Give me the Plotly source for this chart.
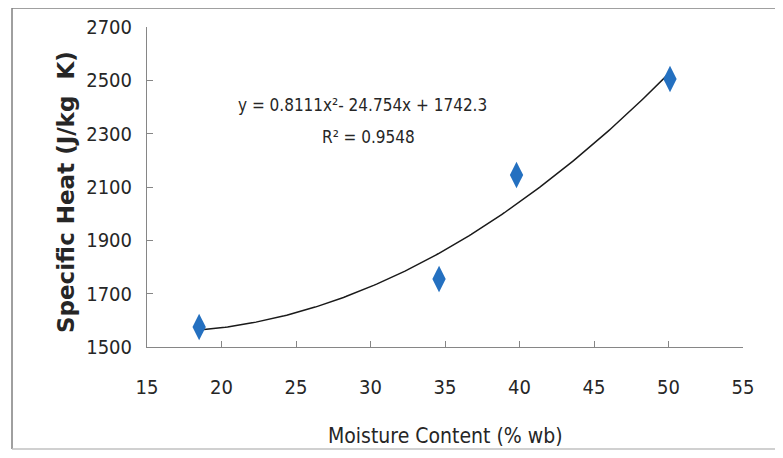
import numpy as np
import plotly.graph_objects as go

# Data
moisture = [18.5, 34.6, 39.8, 50.1]          # % wb
specific_heat = [1575, 1755, 2145, 2505]      # J/kg K
x_ticks = [15, 20, 25, 30, 35, 40, 45, 50, 55]
y_ticks = [1500, 1700, 1900, 2100, 2300, 2500, 2700]
equation_text = "y = 0.8111x²- 24.754x + 1742.3"
r2_text = "R² = 0.9548"
x_title = "Moisture Content (% wb)"
y_title = "Specific Heat (J/kg&nbsp; K)"

# Polynomial (order 2) trendline fitted to the data, as the original spreadsheet did
coef = np.polyfit(moisture, specific_heat, 2)
tx = np.linspace(min(moisture), max(moisture), 200)
ty = np.polyval(coef, tx)

FONT = "DejaVu Sans Condensed, DejaVu Sans, sans-serif"
TXT = "#262626"
FRAME = dict(color="#808080", width=1.5)

fig = go.Figure()
fig.add_trace(go.Scatter(x=tx, y=ty, mode="lines",
                         line=dict(color="#1a1a1a", width=1.5),
                         showlegend=False, hoverinfo="skip"))
fig.add_trace(go.Scatter(x=moisture, y=specific_heat, mode="markers",
                         marker=dict(symbol="diamond-tall", size=19, color="#2470C0",
                                     line=dict(width=0)),
                         showlegend=False))

# the page body adds an 8px margin, so the figure is sized/shifted to fit the window
fig.update_layout(
    width=767, height=442,
    margin=dict(l=139, r=32, t=19, b=103),
    paper_bgcolor="white", plot_bgcolor="white",
    font=dict(family=FONT, size=20, color=TXT),
    xaxis=dict(range=[15, 55], tickvals=x_ticks, showgrid=False, zeroline=False,
               showline=True, linecolor="#868686", linewidth=1,
               ticks="inside", ticklen=6, tickcolor="#868686",
               ticklabelstandoff=22, automargin=False,
               tickfont=dict(family=FONT, size=20, color=TXT)),
    yaxis=dict(range=[1500, 2700], tickvals=y_ticks, showgrid=False, zeroline=False,
               showline=True, linecolor="#868686", linewidth=1,
               ticks="inside", ticklen=6, tickcolor="#868686",
               ticklabelstandoff=10, automargin=False,
               tickfont=dict(family=FONT, size=20, color=TXT)),
    annotations=[
        dict(x=0.361, y=0.756, xref="paper", yref="paper", text=equation_text,
             xanchor="center", yanchor="middle",
             showarrow=False, font=dict(family=FONT, size=17, color=TXT)),
        dict(x=0.371, y=0.656, xref="paper", yref="paper", text=r2_text,
             xanchor="center", yanchor="middle",
             showarrow=False, font=dict(family=FONT, size=17, color=TXT)),
        dict(x=0.5, y=-0.278, xref="paper", yref="paper", text=x_title,
             xanchor="center", yanchor="middle",
             showarrow=False, font=dict(family=FONT, size=21, color=TXT)),
        dict(x=-0.136, y=0.484, xref="paper", yref="paper", text=y_title,
             xanchor="center", yanchor="middle",
             textangle=-90, showarrow=False,
             font=dict(family="DejaVu Sans, sans-serif", size=23, color=TXT,
                       weight="bold")),
    ],
    shapes=[
        dict(type="line", xref="paper", yref="paper", x0=-0.2265, x1=-0.2265,
             y0=-0.319, y1=1.059, line=FRAME, layer="below"),
        dict(type="line", xref="paper", yref="paper", x0=-0.2265, x1=1.2,
             y0=1.059, y1=1.059, line=FRAME, layer="below"),
        dict(type="line", xref="paper", yref="paper", x0=-0.2265, x1=1.2,
             y0=-0.319, y1=-0.319, line=dict(color="#c0c0c0", width=1.5),
             layer="below"),
    ],
)

fig.write_html("out.html")
